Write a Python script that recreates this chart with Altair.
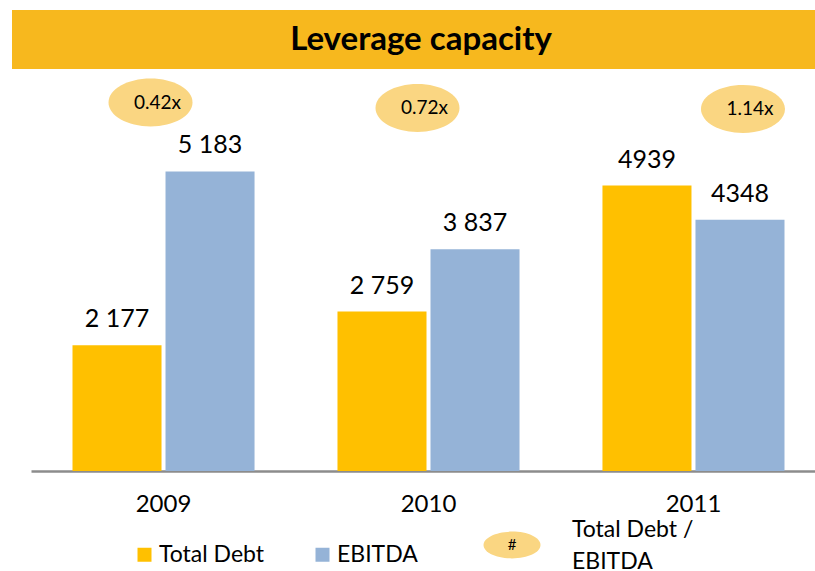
import altair as alt
import pandas as pd

# ---- data ----
years = ["2009", "2010", "2011"]
series = ["Total Debt", "EBITDA"]
total_debt = [2177, 2759, 4939]
ebitda = [5183, 3837, 4348]
debt_labels = ["2 177", "2 759", "4939"]
ebitda_labels = ["5 183", "3 837", "4348"]
ratio_labels = ["0.42x", "0.72x", "1.14x"]
title_text = "Leverage capacity"
ratio_legend_symbol = "#"
ratio_legend_text = ["Total Debt /", "EBITDA"]

rows = []
for i, yr in enumerate(years):
    rows.append({"year": yr, "series": series[0], "value": total_debt[i], "label": debt_labels[i]})
    rows.append({"year": yr, "series": series[1], "value": ebitda[i], "label": ebitda_labels[i]})
df = pd.DataFrame(rows)
ratio_df = pd.DataFrame({"year": years, "ratio": ratio_labels})
one = pd.DataFrame({"k": [0]})

# ---- styles ----
FONT = "Lato"
DEBT_COLOR = "#FFC000"
EBITDA_COLOR = "#95B3D7"
BANNER_COLOR = "#F7B81E"
ELLIPSE_COLOR = "#FAD682"
ELLIPSE_PATH = "M-1,0A1,0.57,0,1,1,1,0A1,0.57,0,1,1,-1,0Z"
SMALL_ELLIPSE_PATH = "M-1,0A1,0.47,0,1,1,1,0A1,0.47,0,1,1,-1,0Z"
ell_dx = [-13, -11, 49.5]
ell_y = [102.5, 108, 109]

x_scale = alt.Scale(domain=years, range=[0, 795], paddingInner=0.313, paddingOuter=0.1566)
xoff_scale = alt.Scale(domain=series, paddingInner=0.043, paddingOuter=0)
y_scale = alt.Scale(domain=[0, 8150])

x_enc = alt.X(
    "year:N", scale=x_scale,
    axis=alt.Axis(title=None, labelAngle=0, ticks=False, grid=False,
                  domainColor="#8C8C8C", domainWidth=2.5,
                  labelFont=FONT, labelFontSize=24, labelColor="black", labelPadding=21),
)
xo_enc = alt.XOffset("series:N", scale=xoff_scale)
y_enc = alt.Y("value:Q", scale=y_scale, axis=None)

banner = alt.Chart(one).mark_rect(color=BANNER_COLOR).encode(
    x=alt.value(-19), x2=alt.value(784), y=alt.value(10), y2=alt.value(69)
)
title = alt.Chart(one).mark_text(
    text=title_text, font=FONT, fontSize=33, fontWeight="bold", color="black",
    align="center", baseline="middle"
).encode(x=alt.value(390), y=alt.value(40))

bars = alt.Chart(df).mark_bar().encode(
    x=x_enc, xOffset=xo_enc, y=y_enc,
    color=alt.Color(
        "series:N", scale=alt.Scale(domain=series, range=[DEBT_COLOR, EBITDA_COLOR]),
        sort=series,
        legend=alt.Legend(title=None, orient="none", legendX=102, legendY=543,
                          direction="horizontal", symbolType="square", symbolSize=196,
                          symbolStrokeWidth=0, symbolOpacity=1, labelFont=FONT,
                          labelFontSize=23, labelColor="black", labelOffset=3,
                          columnPadding=46, padding=0),
    ),
)
value_labels = alt.Chart(df).mark_text(
    font=FONT, fontSize=25, color="black", baseline="alphabetic", dy=-18
).encode(x=x_enc, xOffset=xo_enc, y=y_enc, text="label:N")

layers = [banner, title, bars, value_labels]
for i, yr in enumerate(years):
    sub = alt.Chart(ratio_df).transform_filter(alt.datum.year == yr)
    layers.append(sub.mark_point(shape=ELLIPSE_PATH, size=84 * 84, filled=True,
                                 color=ELLIPSE_COLOR, opacity=1, strokeWidth=0,
                                 xOffset=ell_dx[i]).encode(x=alt.X("year:N", scale=x_scale),
                                                           y=alt.value(ell_y[i])))
    layers.append(sub.mark_text(font=FONT, fontSize=19, color="black", align="center",
                                baseline="middle", xOffset=ell_dx[i] + 7).encode(
        x=alt.X("year:N", scale=x_scale), y=alt.value(ell_y[i]), text="ratio:N"))

legend_ell = alt.Chart(one).mark_point(shape=SMALL_ELLIPSE_PATH, size=57 * 57, filled=True,
                                       color=ELLIPSE_COLOR, opacity=1, strokeWidth=0).encode(
    x=alt.value(481), y=alt.value(545))
legend_hash = alt.Chart(one).mark_text(text=ratio_legend_symbol, font=FONT, fontSize=15,
                                       color="black", align="center", baseline="middle").encode(
    x=alt.value(481), y=alt.value(545))
legend_txt = alt.Chart(one).mark_text(text=ratio_legend_text, font=FONT, fontSize=23,
                                      color="black", align="left", baseline="alphabetic",
                                      lineHeight=32).encode(x=alt.value(541), y=alt.value(537))
layers += [legend_ell, legend_hash, legend_txt]

chart = alt.layer(*layers).resolve_scale(x="shared").properties(
    width=784, height=471,
    padding={"left": 31, "top": 0, "right": 0, "bottom": 100},
    autosize="none",
    background="white",
).configure_view(stroke=None)

chart.save("out.html", embed_options={"renderer": "svg", "actions": False})
